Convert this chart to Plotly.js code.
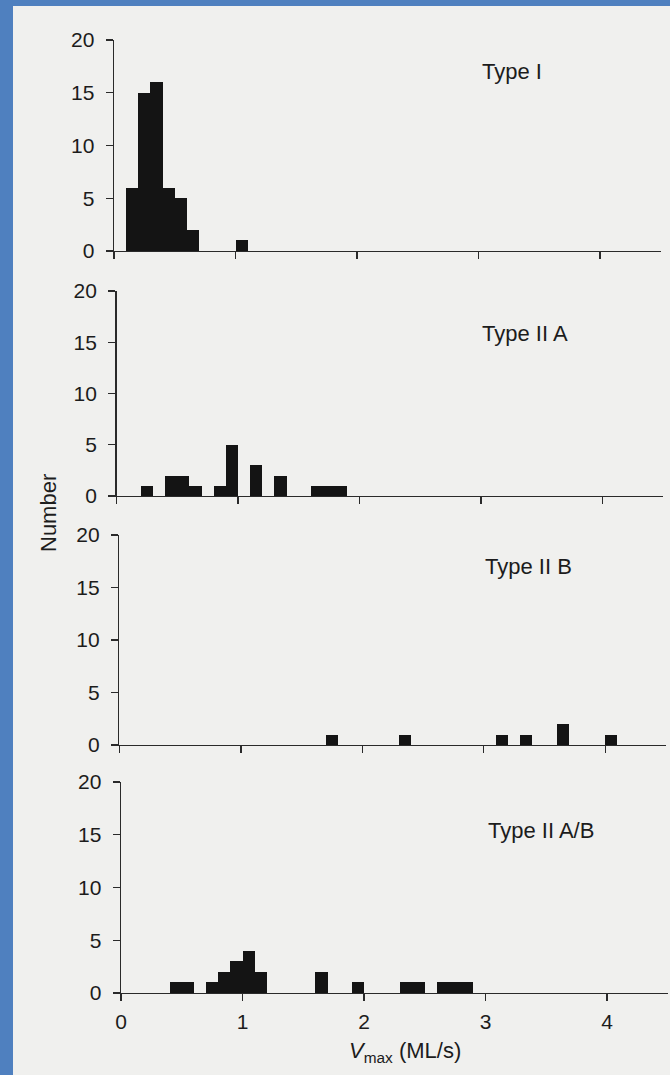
<!DOCTYPE html>
<html>
<head>
<meta charset="utf-8">
<script src="https://cdn.plot.ly/plotly-3.0.1.min.js"></script>
<style>html,body{margin:0;padding:0;background:#f0f0ee;}#chart{width:670px;height:1075px;}</style>
</head>
<body>
<div id="chart"></div>
<script>
// Histogram data: lower bin edges (ML/s) and counts, bin width 0.1
var binWidth = 0.1;
var typeI_bins   = [0.1, 0.2, 0.3, 0.4, 0.5, 0.6, 1.0];
var typeI_counts = [6, 15, 16, 6, 5, 2, 1];

var typeIIA_bins   = [0.2, 0.4, 0.5, 0.6, 0.8, 0.9, 1.1, 1.3, 1.6, 1.7, 1.8];
var typeIIA_counts = [1, 2, 2, 1, 1, 5, 3, 2, 1, 1, 1];

var typeIIB_bins   = [1.7, 2.3, 3.1, 3.3, 3.6, 4.0];
var typeIIB_counts = [1, 1, 1, 1, 2, 1];

var typeIIAB_bins   = [0.4, 0.5, 0.7, 0.8, 0.9, 1.0, 1.1, 1.6, 1.9, 2.3, 2.4, 2.6, 2.7, 2.8];
var typeIIAB_counts = [1, 1, 1, 2, 3, 4, 2, 2, 1, 1, 1, 1, 1, 1];

var panelLabels = ["Type I", "Type II A", "Type II B", "Type II A/B"];
var xTicks = [0, 1, 2, 3, 4];
var yTicks = [0, 5, 10, 15, 20];
var xTitle = "<i>V</i><sub>max</sub> (ML/s)";
var yTitle = "Number";

var series = [
  [typeI_bins, typeI_counts],
  [typeIIA_bins, typeIIA_counts],
  [typeIIB_bins, typeIIB_counts],
  [typeIIAB_bins, typeIIAB_counts]
];

var W = 670, H = 1075;
// panel geometry in pixels (scan is slightly skewed)
var panelTop = [40, 291, 535, 782];
var panelBot = [251, 496, 745, 993];
var panelLeft = [114, 116.5, 119.3, 121];
var pxPerUnit = 121.5;
var xMax = 4.5;
var labelPos = [[480, 71], [480, 333], [483, 566], [486, 830]];

var font = "Liberation Sans, Arial, Helvetica, sans-serif";
var ink = "#1c1c1c";
var axisCol = "#2a2a2a";

var traces = [];
var layout = {
  width: W, height: H,
  margin: {l: 0, r: 0, t: 0, b: 0},
  paper_bgcolor: "#f0f0ee",
  plot_bgcolor: "rgba(0,0,0,0)",
  showlegend: false,
  bargap: 0,
  font: {family: font, color: ink, size: 21},
  annotations: [],
  shapes: [
    {type: "rect", xref: "paper", yref: "paper", x0: 0, x1: 13 / W, y0: 0, y1: 1,
     fillcolor: "#4f80bf", line: {width: 0}, layer: "above"},
    {type: "rect", xref: "paper", yref: "paper", x0: 0, x1: 1, y0: 1 - 6 / H, y1: 1,
     fillcolor: "#4f80bf", line: {width: 0}, layer: "above"}
  ]
};

for (var i = 0; i < 4; i++) {
  var n = i + 1;
  var xa = "x" + (n === 1 ? "" : n);
  var ya = "y" + (n === 1 ? "" : n);
  traces.push({
    type: "bar",
    x: series[i][0],
    y: series[i][1],
    width: binWidth,
    offset: 0,
    xaxis: xa, yaxis: ya,
    marker: {color: "#141414", line: {width: 0}},
    hoverinfo: "x+y"
  });
  var xKey = "xaxis" + (n === 1 ? "" : n);
  var yKey = "yaxis" + (n === 1 ? "" : n);
  layout[xKey] = {
    anchor: ya,
    domain: [panelLeft[i] / W, (panelLeft[i] + xMax * pxPerUnit) / W],
    range: [0, xMax],
    tickmode: "array", tickvals: xTicks, ticktext: xTicks.map(String),
    ticks: "outside", ticklen: 7, tickwidth: 1.4, tickcolor: axisCol,
    showline: true, linecolor: axisCol, linewidth: 1.4,
    showgrid: false, zeroline: false,
    showticklabels: n === 4,
    ticklabelstandoff: 2,
    tickfont: {family: font, size: 21, color: ink},
    fixedrange: true
  };
  layout[yKey] = {
    anchor: xa,
    domain: [1 - panelBot[i] / H, 1 - panelTop[i] / H],
    range: [0, 20],
    tickmode: "array", tickvals: yTicks, ticktext: yTicks.map(String),
    ticks: "outside", ticklen: 7, tickwidth: 1.4, tickcolor: axisCol,
    showline: true, linecolor: axisCol, linewidth: 1.4,
    showgrid: false, zeroline: false,
    ticklabelstandoff: 7,
    tickfont: {family: font, size: 21, color: ink},
    fixedrange: true
  };
  layout.annotations.push({
    xref: "paper", yref: "paper",
    x: labelPos[i][0] / W, y: 1 - labelPos[i][1] / H,
    xanchor: "left", yanchor: "middle",
    text: panelLabels[i], showarrow: false,
    font: {family: font, size: 22, color: ink}
  });
}

layout.annotations.push({
  xref: "paper", yref: "paper", x: 48 / W, y: 1 - 513 / H,
  xanchor: "center", yanchor: "middle", textangle: -90,
  text: yTitle, showarrow: false, font: {family: font, size: 22, color: ink}
});
layout.annotations.push({
  xref: "paper", yref: "paper", x: 405 / W, y: 1 - 1052 / H,
  xanchor: "center", yanchor: "middle",
  text: xTitle, showarrow: false, font: {family: font, size: 22, color: ink}
});

Plotly.newPlot("chart", traces, layout, {displayModeBar: false, staticPlot: true});
</script>
</body>
</html>
